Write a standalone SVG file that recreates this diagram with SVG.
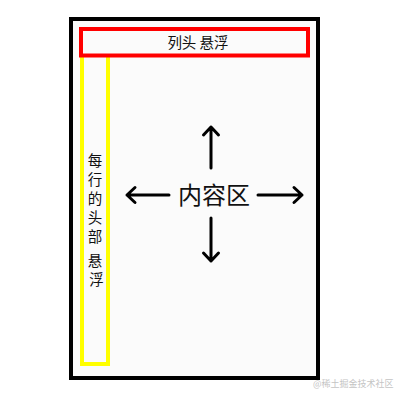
<svg xmlns="http://www.w3.org/2000/svg" width="400" height="400" viewBox="0 0 400 400">
<style>
.t{font-family:"Noto Sans CJK SC","Noto Sans",sans-serif;fill:#111}
.arr{fill:none;stroke:#000;stroke-width:3;stroke-linecap:round;stroke-linejoin:round}
</style>
<rect width="400" height="400" fill="#fff"/>
<g id="container">
<rect x="71" y="19" width="247" height="359" fill="#fbfbfb" stroke="#000" stroke-width="4"/>
</g>
<g id="row-header">
<rect x="82" y="52" width="26" height="312" fill="none" stroke="#ffff00" stroke-width="4"/>
<text class="t" font-size="14.5" text-anchor="middle">
<tspan x="96.5" y="166">每</tspan>
<tspan x="96.5" y="185">行</tspan>
<tspan x="96.5" y="204">的</tspan>
<tspan x="96.5" y="223">头</tspan>
<tspan x="96.5" y="242">部</tspan>
<tspan x="96.5" y="266">悬</tspan>
<tspan x="96.5" y="285">浮</tspan>
</text>
</g>
<g id="column-header">
<rect x="81" y="29" width="227" height="26.5" fill="#fbfbfb" stroke="#ff0000" stroke-width="4"/>
<text class="t" x="198" y="47.5" font-size="14.5" text-anchor="middle">列头 悬浮</text>
</g>
<g id="content">
<text class="t" x="214" y="204" font-size="24" text-anchor="middle" fill="#000">内容区</text>
</g>
<g id="connectors">
<path class="arr" d="M211 168V127M203.5 135L211 127L218.5 135"/>
<path class="arr" d="M211 218V261M203.5 253L211 261L218.5 253"/>
<path class="arr" d="M169 195H127M135 187.5L127 195L135 202.5"/>
<path class="arr" d="M258 195H302M294 187.5L302 195L294 202.5"/>
</g>
<text x="313" y="387" font-family="Noto Sans CJK SC,sans-serif" font-size="9" fill="#c4c4c4">@稀土掘金技术社区</text>
</svg>
